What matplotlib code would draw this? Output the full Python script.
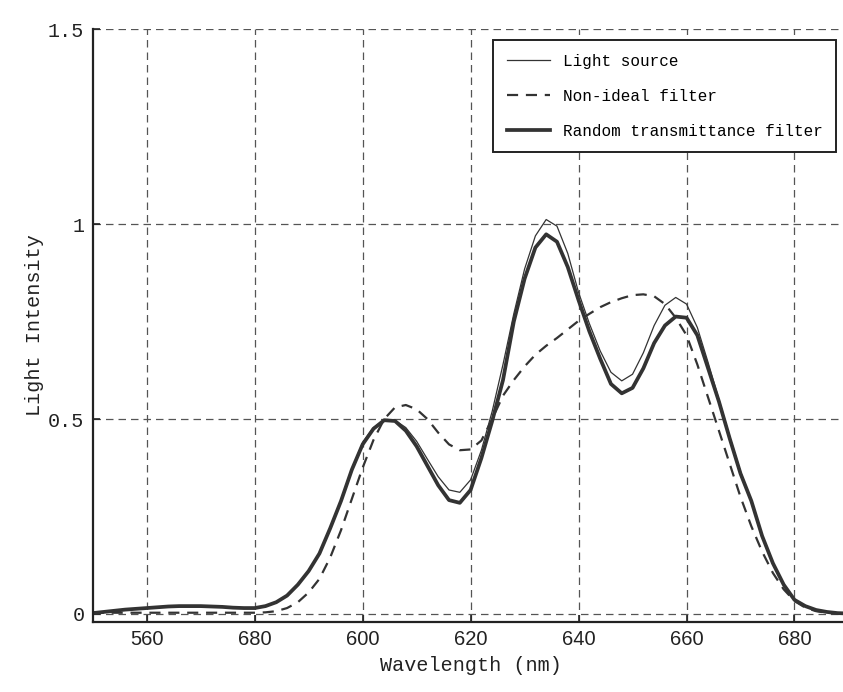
"""Light source vs filters spectrum plot."""
from matplotlib import pyplot

# wavelength grid (nm)
wavelength = list(range(550, 692, 2))

light_source = [
    0.002, 0.005, 0.008, 0.011, 0.013, 0.015, 0.017, 0.019, 0.020, 0.020,
    0.020, 0.019, 0.018, 0.016, 0.015, 0.015, 0.020, 0.030, 0.047, 0.075,
    0.110, 0.155, 0.220, 0.290, 0.370, 0.440, 0.478, 0.497, 0.497, 0.478,
    0.443, 0.397, 0.352, 0.318, 0.312, 0.344, 0.420, 0.520, 0.640, 0.770,
    0.885, 0.970, 1.012, 0.995, 0.925, 0.825, 0.745, 0.675, 0.620, 0.598,
    0.615, 0.670, 0.740, 0.792, 0.812, 0.795, 0.735, 0.645, 0.550, 0.455,
    0.365, 0.290, 0.200, 0.130, 0.075, 0.036, 0.020, 0.010, 0.005, 0.002,
    0.001,
]

non_ideal = [
    0.003, 0.003, 0.003, 0.003, 0.003, 0.003, 0.003, 0.003, 0.003, 0.003,
    0.003, 0.003, 0.003, 0.003, 0.003, 0.003, 0.004, 0.007, 0.015, 0.030,
    0.055, 0.090, 0.145, 0.215, 0.295, 0.375, 0.446, 0.500, 0.530, 0.536,
    0.525, 0.500, 0.465, 0.435, 0.420, 0.422, 0.445, 0.500, 0.560, 0.600,
    0.635, 0.665, 0.688, 0.708, 0.730, 0.752, 0.770, 0.787, 0.800, 0.810,
    0.818, 0.820, 0.815, 0.795, 0.760, 0.715, 0.640, 0.555, 0.470, 0.385,
    0.300, 0.225, 0.160, 0.105, 0.063, 0.033, 0.016, 0.007, 0.003, 0.001,
    0.000,
]

random_filter = [
    0.002, 0.005, 0.008, 0.011, 0.013, 0.015, 0.017, 0.019, 0.020, 0.020,
    0.020, 0.019, 0.018, 0.016, 0.015, 0.015, 0.020, 0.030, 0.047, 0.075,
    0.110, 0.155, 0.220, 0.290, 0.370, 0.435, 0.475, 0.497, 0.495, 0.470,
    0.430, 0.380, 0.330, 0.292, 0.285, 0.318, 0.400, 0.495, 0.600, 0.750,
    0.860, 0.940, 0.974, 0.955, 0.890, 0.805, 0.725, 0.655, 0.590, 0.566,
    0.580, 0.630, 0.695, 0.740, 0.763, 0.760, 0.715, 0.630, 0.545, 0.450,
    0.360, 0.290, 0.200, 0.130, 0.075, 0.036, 0.020, 0.010, 0.005, 0.002,
    0.001,
]

x_ticks = [560, 580, 600, 620, 640, 660, 680]
x_tick_labels = ["560", "680", "600", "620", "640", "660", "680"]
y_ticks = [0, 0.5, 1, 1.5]
y_tick_labels = ["0", "0.5", "1", "1.5"]

line_color = "#333333"
mono = "Liberation Mono"

fig = pyplot.figure(figsize=(8.43, 6.92), dpi=100)
ax = fig.add_axes([0.110, 0.1016, 0.8965, 0.856])

ax.plot(wavelength, light_source, color=line_color, lw=0.9,
        solid_joinstyle="round", label="Light source")
ax.plot(wavelength, non_ideal, color=line_color, lw=1.6, dashes=(5, 3.5),
        label="Non-ideal filter")
ax.plot(wavelength, random_filter, color=line_color, lw=2.7,
        solid_joinstyle="round", label="Random transmittance filter")

ax.set_xlim(550, 690)
ax.set_ylim(-0.02, 1.5)
ax.set_xticks(x_ticks)
ax.set_xticklabels(x_tick_labels, family="Liberation Sans", fontsize=14.5)
ax.set_yticks(y_ticks)
ax.set_yticklabels(y_tick_labels, family=mono, fontsize=14.5)
ax.tick_params(direction="in", length=5, width=1.2, pad=6, colors="#222222")

ax.grid(True, color="#555555", lw=0.9, dashes=(6, 4))
for side in ("top", "right"):
    ax.spines[side].set_visible(False)
for side in ("left", "bottom"):
    ax.spines[side].set_linewidth(1.6)
    ax.spines[side].set_color("#222222")

ax.set_xlabel("Wavelength (nm)", family=mono, fontsize=14.5, labelpad=5,
              color="#222222")
ax.set_ylabel("Light Intensity", family=mono, fontsize=14.5, labelpad=3,
              color="#222222")

leg = ax.legend(loc="upper right", bbox_to_anchor=(0.9917, 0.942),
                bbox_transform=fig.transFigure, prop={"family": mono, "size": 11.5},
                fancybox=False, framealpha=1, edgecolor="#222222",
                handlelength=2.7, handletextpad=0.8, labelspacing=1.25,
                borderpad=0.85, borderaxespad=0)
leg.get_frame().set_linewidth(1.4)

fig.savefig("out.png", dpi=100)
